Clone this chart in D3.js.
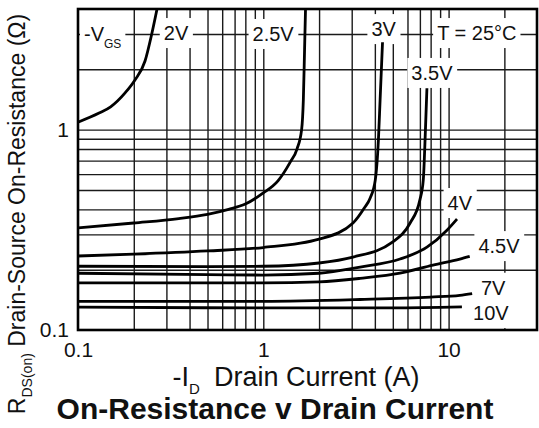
<!DOCTYPE html>
<html>
<head>
<meta charset="utf-8">
<script src="https://cdnjs.cloudflare.com/ajax/libs/d3/7.8.5/d3.min.js"></script>
<style>
  body { margin: 0; background: #fff; }
  text { font-family: "Liberation Sans", Arial, Helvetica, sans-serif; fill: #111; }
</style>
</head>
<body>
<svg id="chart" width="539" height="428"></svg>
<script>
// drain current (A) vs on-resistance (ohm), one array per gate voltage
var curve2V  = [[0.1,1.09],[0.13,1.21],[0.15,1.30],[0.18,1.53],[0.203,1.77],[0.23,2.2],[0.25,3.0],[0.267,4.0]];
var curve25V = [[0.1,0.323],[0.2,0.342],[0.35,0.36],[0.5,0.378],[0.65,0.40],[0.8,0.425],[1.0,0.483],[1.2,0.555],[1.4,0.69],[1.52,0.80],[1.61,1.0],[1.645,1.41],[1.67,2.5],[1.69,4.0]];
var curve3V  = [[0.1,0.234],[0.2,0.239],[0.5,0.248],[1.0,0.258],[2.0,0.284],[3.05,0.342],[3.5,0.405],[3.77,0.455],[4.02,0.56],[4.18,0.887],[4.27,1.41],[4.4,2.73]];
var curve35V = [[0.1,0.208],[0.5,0.207],[1.0,0.208],[2.0,0.216],[3.05,0.231],[5.0,0.275],[6.2,0.342],[7.0,0.446],[7.3,0.56],[7.5,1.0],[7.64,1.61]];
var curve4V  = [[0.1,0.192],[0.5,0.189],[1.0,0.188],[2.0,0.192],[3.33,0.206],[5.47,0.226],[7.64,0.259],[9.8,0.315],[11.1,0.358]];
var curve45V = [[0.1,0.172],[1.0,0.172],[2.0,0.174],[3.33,0.181],[5.47,0.192],[8.24,0.211],[11.5,0.226],[13.0,0.233]];
var curve7V  = [[0.1,0.139],[1.0,0.139],[3.33,0.142],[8.0,0.146],[11.5,0.149],[13.4,0.152]];
var curve10V = [[0.1,0.130],[1.0,0.129],[5.0,0.129],[11.8,0.1305]];

var allCurves = [curve2V, curve25V, curve3V, curve35V, curve4V, curve45V, curve7V, curve10V];

// grid + tick values
var xGridVals = [0.2,0.3,0.4,0.5,0.6,0.7,0.8,0.9,1,2,3,4,5,6,7,8,9,10,20];
var yGridVals = [0.2,0.3,0.4,0.5,0.6,0.7,0.8,0.9,1,2,3];
var xTickVals = [0.1, 1, 10];
var yTickVals = [0.1, 1];

// in-plot labels: text, current (x) and resistance (y) of the text baseline centre
var labelText = ["2V","2.5V","3V","T = 25\u00B0C","3.5V","4V","4.5V","7V","10V"];
var labelAtI  = [0.338, 1.13, 4.46, 14.2, 8.13, 11.5, 18.7, 17.4, 16.9];
var labelAtR  = [2.80, 2.77, 2.93, 2.80, 1.77, 0.397, 0.242, 0.150, 0.112];

var svg = d3.select("#chart");
var W = 539, H = 428;
var pLeft = 78, pRight = 537, pTop = 9, pBottom = 330;

svg.append("rect").attr("width", W).attr("height", H).attr("fill", "#fff");

var x = d3.scaleLog().domain([0.1, 30]).range([pLeft, pRight]);
var y = d3.scaleLog().domain([0.1, 4]).range([pBottom, pTop]);

// grid lines (through the axes)
svg.append("g")
  .attr("transform", "translate(0," + pBottom + ")")
  .call(d3.axisBottom(x).tickValues(xGridVals).tickSize(-(pBottom - pTop)).tickFormat(""))
  .call(function(g) { g.select(".domain").remove(); })
  .selectAll("line").attr("stroke", "#1a1a1a").attr("stroke-width", 1.4);

svg.append("g")
  .attr("transform", "translate(" + pLeft + ",0)")
  .call(d3.axisLeft(y).tickValues(yGridVals).tickSize(-(pRight - pLeft)).tickFormat(""))
  .call(function(g) { g.select(".domain").remove(); })
  .selectAll("line").attr("stroke", "#1a1a1a").attr("stroke-width", 1.4);

// tick labels
var xAx = svg.append("g")
  .attr("transform", "translate(0," + pBottom + ")")
  .call(d3.axisBottom(x).tickValues(xTickVals).tickSize(0).tickPadding(12).tickFormat(d3.format("")));
xAx.select(".domain").remove();
xAx.attr("font-size", 21).attr("font-family", null);
xAx.selectAll("text").attr("fill", "#111");

var yAx = svg.append("g")
  .attr("transform", "translate(" + pLeft + ",0)")
  .call(d3.axisLeft(y).tickValues(yTickVals).tickSize(0).tickPadding(9).tickFormat(d3.format("")));
yAx.select(".domain").remove();
yAx.attr("font-size", 21).attr("font-family", null);
yAx.selectAll("text").attr("fill", "#111");

// label layer (white boxes cut the grid)
var boxes = svg.append("g");
var labels = svg.append("g").attr("font-size", 20);

function addLabel(sel) {
  var bb = sel.node().getBBox();
  boxes.append("rect")
    .attr("x", bb.x - 4).attr("y", bb.y - 4)
    .attr("width", bb.width + 8).attr("height", bb.height + 8)
    .attr("fill", "#fff");
}

var vgs = labels.append("text").attr("x", 84).attr("y", y(3) + 7);
vgs.append("tspan").text("-V");
vgs.append("tspan").attr("font-size", 12).attr("dy", 7).text("GS");
addLabel(vgs);

labelText.forEach(function(t, i) {
  var tx = labels.append("text")
    .attr("x", x(labelAtI[i])).attr("y", y(labelAtR[i]))
    .attr("text-anchor", "middle")
    .text(t);
  addLabel(tx);
});

// curves
svg.append("clipPath").attr("id", "plotclip")
  .append("rect").attr("x", pLeft).attr("y", pTop).attr("width", pRight - pLeft).attr("height", pBottom - pTop);

var line = d3.line()
  .x(function(d) { return x(d[0]); })
  .y(function(d) { return y(d[1]); })
  .curve(d3.curveMonotoneX);

svg.append("g").attr("clip-path", "url(#plotclip)")
  .selectAll("path")
  .data(allCurves)
  .enter().append("path")
  .attr("d", line)
  .attr("fill", "none")
  .attr("stroke", "#000")
  .attr("stroke-width", 2.8);

// frame
svg.append("rect")
  .attr("x", pLeft).attr("y", pTop)
  .attr("width", pRight - pLeft).attr("height", pBottom - pTop)
  .attr("fill", "none").attr("stroke", "#000").attr("stroke-width", 2.6);

// axis titles
var xt = svg.append("text").attr("x", 296).attr("y", 386).attr("text-anchor", "middle").attr("font-size", 27);
xt.append("tspan").text("-I");
xt.append("tspan").attr("font-size", 15).attr("dy", 8).text("D");
xt.append("tspan").attr("dy", -8).attr("dx", 14).text("Drain Current (A)");

var yt = svg.append("text")
  .attr("transform", "translate(25,214) rotate(-90)")
  .attr("text-anchor", "middle").attr("font-size", 23);
yt.append("tspan").text("R");
yt.append("tspan").attr("font-size", 14).attr("dy", 7).text("DS(on)");
yt.append("tspan").attr("dy", -7).text(" Drain-Source On-Resistance (\u03A9)");

svg.append("text")
  .attr("x", 275).attr("y", 419)
  .attr("text-anchor", "middle")
  .attr("font-size", 30).attr("font-weight", "bold")
  .text("On-Resistance v Drain Current");
</script>
</body>
</html>
